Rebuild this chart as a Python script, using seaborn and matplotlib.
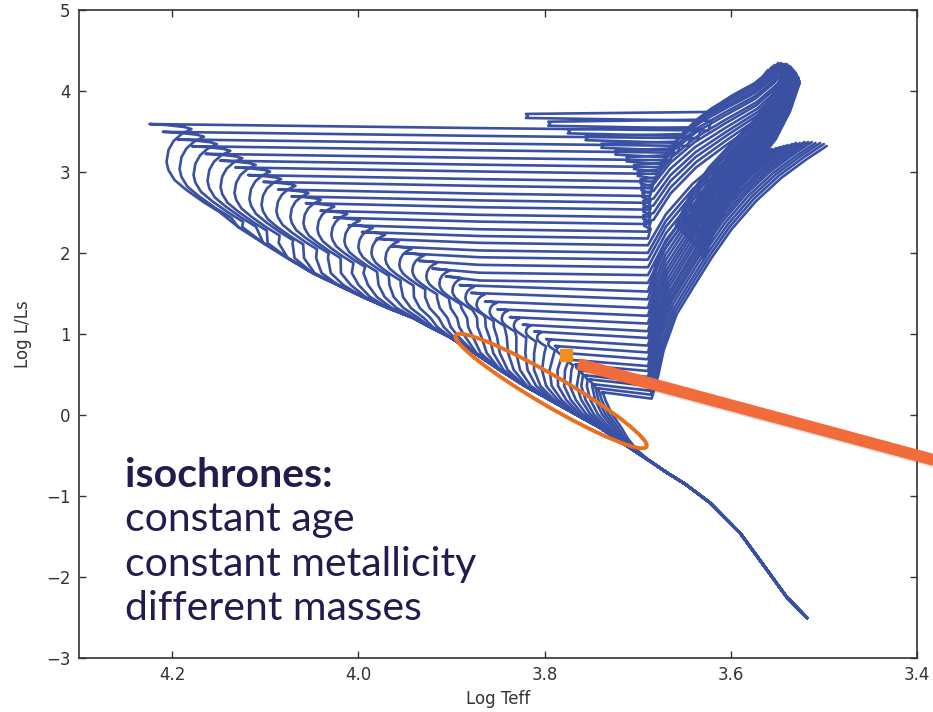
import numpy as np
import pandas as pd
import matplotlib
matplotlib.use("Agg")
import matplotlib.pyplot as plt
import matplotlib.patheffects as pe
from matplotlib.patches import Ellipse
from matplotlib.transforms import ScaledTranslation
import seaborn as sns

# ---------------------------------------------------------------------------
# Lower main sequence / ZAMS envelope shared by every isochrone (bottom -> top)
zams_teff = [3.518, 3.540, 3.561, 3.590, 3.622, 3.649, 3.668, 3.687, 3.705, 3.724,
             3.740, 3.767, 3.794, 3.821, 3.848, 3.875, 3.902, 3.923, 3.941, 3.968,
             3.995, 4.022, 4.049, 4.076, 4.102, 4.129, 4.156, 4.172, 4.188, 4.196, 4.202]
zams_lum = [-2.506, -2.247, -1.914, -1.457, -1.086, -0.852, -0.716, -0.568, -0.432, -0.284,
            -0.160, 0.012, 0.185, 0.358, 0.556, 0.765, 0.963, 1.086, 1.198, 1.321,
            1.457, 1.605, 1.753, 1.938, 2.123, 2.321, 2.531, 2.667, 2.815, 2.901, 3.000]

# Per-isochrone turn-off hook (bluest point of the hook), youngest first
hook_teff = [4.206, 4.192, 4.177, 4.162, 4.148, 4.133, 4.117, 4.104, 4.088, 4.073,
             4.059, 4.044, 4.029, 4.015, 4.000, 3.986, 3.971, 3.956, 3.942, 3.927,
             3.913, 3.899, 3.885, 3.873, 3.859, 3.846, 3.833, 3.820, 3.808, 3.796,
             3.787, 3.779, 3.773, 3.766, 3.761, 3.756, 3.751, 3.747, 3.743, 3.738]
hook_lum = [3.123, 3.037, 2.963, 2.889, 2.815, 2.741, 2.667, 2.593, 2.519, 2.444,
            2.370, 2.296, 2.222, 2.148, 2.074, 2.000, 1.926, 1.852, 1.778, 1.704,
            1.617, 1.531, 1.444, 1.358, 1.272, 1.185, 1.099, 1.025, 0.951, 0.877,
            0.802, 0.728, 0.654, 0.593, 0.531, 0.469, 0.420, 0.370, 0.321, 0.272]
# luminosity jump between the hook and the start of the subgiant branch
hook_size = [0.47, 0.46, 0.44, 0.43, 0.41, 0.40, 0.39, 0.37, 0.36, 0.34,
             0.33, 0.32, 0.30, 0.29, 0.27, 0.26, 0.25, 0.23, 0.22, 0.20,
             0.19, 0.18, 0.16, 0.15, 0.13, 0.12, 0.11, 0.09, 0.08, 0.06,
             0.05, 0.04, 0.03, 0.03, 0.02, 0.02, 0.02, 0.01, 0.01, 0.01]
# luminosity where each main sequence leaves the common envelope
ms_split = [2.50, 2.38, 2.26, 2.15, 2.04, 1.92, 1.81, 1.69, 1.58, 1.47,
            1.37, 1.30, 1.22, 1.15, 1.07, 1.00, 0.93, 0.85, 0.78, 0.70,
            0.62, 0.53, 0.44, 0.36, 0.27, 0.19, 0.10, 0.05, -0.01, -0.06,
            -0.12, -0.17, -0.23, -0.28, -0.33, -0.38, -0.43, -0.48, -0.53, -0.58]
# base of the giant branch
base_teff = [3.624, 3.635, 3.646, 3.657, 3.665, 3.672, 3.677, 3.681, 3.685, 3.687,
             3.689, 3.689, 3.689, 3.689, 3.689, 3.689, 3.689, 3.689, 3.689, 3.689,
             3.689, 3.689, 3.689, 3.689, 3.689, 3.689, 3.689, 3.689, 3.689, 3.689,
             3.689, 3.689, 3.689, 3.689, 3.689, 3.689, 3.688, 3.687, 3.686, 3.685]
# blue-loop extent of the younger isochrones
loop_teff = [3.818, 3.794, 3.773, 3.754, 3.737, 3.722, 3.710, 3.702,
             3.698, 3.695, 3.694, 3.693, 3.692, 3.692, 3.692, 3.691]
# end of each isochrone (AGB tip for the young group, RGB tip for the old group)
tip_teff = [3.560, 3.556, 3.553, 3.549, 3.546, 3.544, 3.542, 3.540, 3.539, 3.536,
            3.535, 3.534, 3.533, 3.532, 3.531, 3.530, 3.529, 3.528, 3.527, 3.527,
            3.526, 3.526,
            3.569, 3.564, 3.560, 3.556, 3.551, 3.547, 3.543, 3.539, 3.534, 3.530,
            3.526, 3.521, 3.517, 3.513, 3.509, 3.504, 3.500, 3.497]
tip_lum = [4.259, 4.296, 4.321, 4.346, 4.346, 4.333, 4.333, 4.321, 4.309, 4.296,
           4.284, 4.259, 4.247, 4.235, 4.222, 4.198, 4.185, 4.173, 4.160, 4.136,
           4.123, 4.099,
           3.247, 3.259, 3.272, 3.284, 3.296, 3.309, 3.321, 3.333, 3.346, 3.358,
           3.358, 3.370, 3.370, 3.370, 3.358, 3.358, 3.346, 3.321]
n_agb = 22
# core-helium-burning clump and AGB tip of the older isochrones
clump_teff = [3.659, 3.657, 3.655, 3.652, 3.650, 3.648, 3.646, 3.644, 3.642,
              3.639, 3.637, 3.635, 3.634, 3.633, 3.632, 3.631, 3.630, 3.629]
clump_lum = [2.333, 2.309, 2.284, 2.259, 2.235, 2.210, 2.185, 2.160, 2.136,
             2.111, 2.086, 2.062, 2.037, 2.012, 1.988, 1.963, 1.938, 1.914]
agb_tip_teff = [3.540, 3.539, 3.537, 3.536, 3.535, 3.534, 3.533, 3.532, 3.531,
                3.530, 3.530, 3.529, 3.529, 3.528, 3.528, 3.527, 3.527, 3.526]
agb_tip_lum = [4.333, 4.321, 4.309, 4.296, 4.284, 4.272, 4.259, 4.247, 4.235,
               4.222, 4.210, 4.198, 4.185, 4.173, 4.160, 4.148, 4.123, 4.099]

# Shape of the turn-off "C" and hook (offsets for the largest hook)
c_dteff = [-0.0569, -0.0397, -0.0215, -0.0086, -0.0021, 0.0, -0.0021, -0.0075,
           -0.0161, -0.0268, -0.0193, 0.0, 0.0183]
c_dlum = [-0.617, -0.494, -0.346, -0.222, -0.099, 0.0, 0.148, 0.259,
          0.346, 0.407, 0.432, 0.457, 0.469]
# Shape of the giant branches (fraction of luminosity rise, fraction of Teff shift)
agb_f = [0.0, 0.182, 0.363, 0.523, 0.682, 0.841, 1.0]
agb_g = [0.0, 0.12, 0.30, 0.52, 0.75, 0.90, 1.0]
rgb_f = [0.0, 0.090, 0.192, 0.334, 0.465, 0.559, 0.669, 0.783, 0.874, 0.947, 1.0]
rgb_g = [0.0, 0.037, 0.069, 0.143, 0.259, 0.344, 0.455, 0.598, 0.741, 0.884, 1.0]

x_ticks = [4.2, 4.0, 3.8, 3.6, 3.4]
y_ticks = [-3, -2, -1, 0, 1, 2, 3, 4, 5]


def branch(t0, l0, t1, l1, ff, gg):
    return [(t0 - g * (t0 - t1), l0 + f * (l1 - l0)) for f, g in zip(ff, gg)]


# ---------------------------------------------------------------------------
rows = []


def add(track, pts):
    for k, (t, l) in enumerate(pts):
        rows.append({"track": track, "order": k, "log_teff": t, "log_lum": l})


for i in range(len(hook_teff)):
    s = hook_size[i] / 0.47
    c_pts = [(hook_teff[i] + dt * s, hook_lum[i] + dl * s) for dt, dl in zip(c_dteff, c_dlum)]
    t1, l1 = c_pts[0]
    # main sequence: follows the envelope, then peels away towards the turn-off
    delta = np.interp(l1, zams_lum, zams_teff) - t1
    pts = []
    for t, l in zip(zams_teff, zams_lum):
        if l <= ms_split[i]:
            pts.append((t, l))
        elif l < l1 - 0.03:
            w = ((l - ms_split[i]) / (l1 - ms_split[i])) ** 1.6
            pts.append((t - delta * w, l))
    pts += c_pts
    t_sg, l_sg = pts[-1]
    # subgiant branch
    if t_sg > 3.90:
        pts.append((3.87, l_sg - 0.05))
    pts.append((base_teff[i], l_sg - 0.08))
    # blue loop for the younger isochrones
    if i < len(loop_teff):
        pts += [(base_teff[i] - 0.003, l_sg + 0.04),
                (loop_teff[i] + 0.002, l_sg + 0.075),
                (loop_teff[i], l_sg + 0.10),
                (loop_teff[i] + 0.002, l_sg + 0.125)]
        t0, l0 = base_teff[i] - 0.006, l_sg + 0.15
    else:
        t0, l0 = base_teff[i], l_sg - 0.08
    # giant branch up to the tip
    if i < n_agb:
        pts += branch(t0, l0, tip_teff[i], tip_lum[i], agb_f, agb_g)
    else:
        pts += branch(t0, l0, tip_teff[i], tip_lum[i], rgb_f, rgb_g)
    add(i, pts)
    # clump + asymptotic giant branch of the older isochrones
    if i >= n_agb:
        j = i - n_agb
        add(100 + i, branch(clump_teff[j], clump_lum[j], agb_tip_teff[j], agb_tip_lum[j],
                            agb_f, agb_g))

df = pd.DataFrame(rows)

sns.set_style("ticks")
plt.rcParams["font.family"] = ["DejaVu Sans"]

fig = plt.figure(figsize=(9.33, 7.12), dpi=100)
ax = fig.add_axes([79 / 933, 54 / 712, 838 / 933, 648 / 712])

sns.lineplot(data=df, x="log_teff", y="log_lum", units="track", estimator=None,
             sort=False, color="#3a50a3", linewidth=1.9, legend=False, ax=ax)

ax.set_xlim(4.3, 3.4)
ax.set_ylim(-3, 5)
ax.set_xticks(x_ticks)
ax.set_xticklabels([f"{v:.1f}" for v in x_ticks])
ax.set_yticks(y_ticks)
ax.set_xlabel("Log Teff", fontsize=12, color="#333333", labelpad=4)
ax.set_ylabel("Log L/Ls", fontsize=12, color="#333333", labelpad=10)
ax.tick_params(direction="in", length=5, width=1, top=True, right=True,
               labelsize=12, pad=6, labelcolor="#333333", color="#333333")
for sp in ax.spines.values():
    sp.set_color("#333333")
    sp.set_linewidth(1.2)

# highlighted lower main-sequence region
ell = Ellipse((0, 0), 2.21, 0.30, angle=-30.3, fill=False, edgecolor="#e8701f",
              linewidth=2.8, clip_on=False, zorder=5,
              transform=fig.dpi_scale_trans + ScaledTranslation(3.793, 0.296, ax.transData))
ax.add_patch(ell)

# pointer to the turn-off
ax.plot([3.764, 3.354], [0.630, -0.642], color="#f26b3b", linewidth=8.5,
        solid_capstyle="butt", clip_on=False, zorder=6,
        path_effects=[pe.SimpleLineShadow(offset=(1, -1.5), shadow_color="black", alpha=0.12),
                      pe.Normal()])
ax.plot([3.777], [0.741], marker="s", markersize=8.5, color="#ef8f1d",
        linestyle="none", zorder=7)

txt_kw = dict(color="#211c4d", fontsize=29.5, family=["Lato", "DejaVu Sans"])
fig.text(125 / 933, 1 - 487 / 712, "isochrones:", fontweight="bold", **txt_kw)
fig.text(125 / 933, 1 - 531 / 712, "constant age", **txt_kw)
fig.text(125 / 933, 1 - 576 / 712, "constant metallicity", **txt_kw)
fig.text(125 / 933, 1 - 620 / 712, "different masses", **txt_kw)

fig.savefig("out.png", dpi=100)
